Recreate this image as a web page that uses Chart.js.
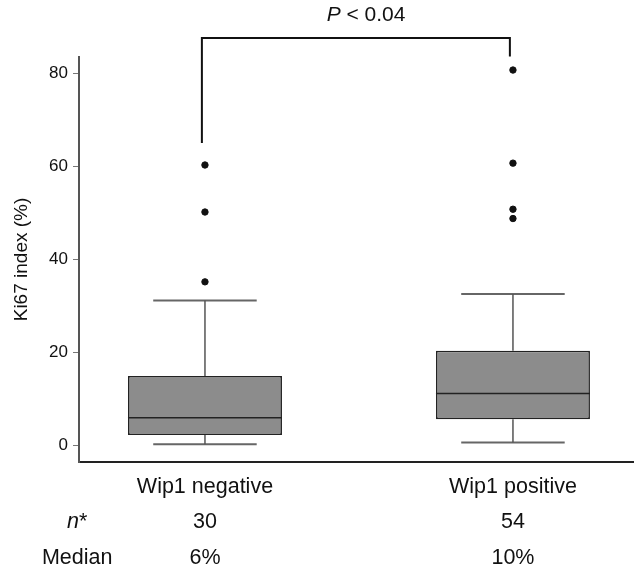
<!DOCTYPE html>
<html>
<head>
<meta charset="utf-8">
<script src="https://cdn.jsdelivr.net/npm/chart.js@4/dist/chart.umd.min.js"></script>
<style>
  html, body { margin: 0; padding: 0; background: #fff; }
  #wrap { width: 634px; height: 566px; position: relative; }
</style>
</head>
<body>
<div id="wrap"><canvas id="c"></canvas></div>
<script>
// ---- data ----
const categories   = ['Wip1 negative', 'Wip1 positive'];
const nCounts      = ['30', '54'];
const medianLabels = ['6%', '10%'];
const q1Values     = [2.3, 5.7];
const medianValues = [6.0, 11.2];
const q3Values     = [15.0, 20.4];
const whiskerLow   = [0.3, 0.7];
const whiskerHigh  = [31.2, 32.6];
const outliersNeg  = [35.2, 50.2, 60.3];
const outliersPos  = [48.8, 50.8, 60.7, 80.7];
const yTickValues  = [0, 20, 40, 60, 80];
const bracketX     = [0.99, 0.99, 1.99, 1.99];
const bracketY     = [65.0, 87.6, 87.6, 83.6];
const pLabel       = { x: 1.523, y: 92.4 };

// ---- geometry constants (style, not data) ----
const BOX_HALF = 0.25;   // half box width in category units
const CAP_HALF = 0.168;  // half whisker cap width
const FONT = '"Liberation Sans", Arial, Helvetica, sans-serif';
const XFONT = 21.5, XLH = 1.656, XPAD = 7;
const PFONT = 21;
const positions = categories.map((_, i) => i + 1);

const gap = (x) => ({ x, y: null });

const medianData = [], whiskerData = [], capData = [];
positions.forEach((p, i) => {
  medianData.push({ x: p - BOX_HALF, y: medianValues[i] }, { x: p + BOX_HALF, y: medianValues[i] }, gap(p));
  whiskerData.push({ x: p, y: q3Values[i] }, { x: p, y: whiskerHigh[i] }, gap(p));
  whiskerData.push({ x: p, y: q1Values[i] }, { x: p, y: whiskerLow[i] }, gap(p));
  capData.push({ x: p - CAP_HALF, y: whiskerHigh[i] }, { x: p + CAP_HALF, y: whiskerHigh[i] }, gap(p));
  capData.push({ x: p - CAP_HALF, y: whiskerLow[i] }, { x: p + CAP_HALF, y: whiskerLow[i] }, gap(p));
});
const outlierData = [
  ...outliersNeg.map(v => ({ x: positions[0], y: v })),
  ...outliersPos.map(v => ({ x: positions[1], y: v }))
];
const bracketData = bracketX.map((x, i) => ({ x, y: bracketY[i] }));
const boxData = positions.map((p, i) => ({ x: p, y: [q1Values[i], q3Values[i]] }));

const annotations = {
  id: 'annotations',
  afterDraw(chart) {
    const { ctx, scales: { x, y } } = chart;
    ctx.save();
    ctx.fillStyle = '#111';
    ctx.textBaseline = 'middle';
    ctx.textAlign = 'left';
    // P < 0.04
    const italic = 'italic ' + PFONT + 'px ' + FONT, normal = PFONT + 'px ' + FONT;
    ctx.font = italic; const w1 = ctx.measureText('P').width;
    ctx.font = normal; const w2 = ctx.measureText(' < 0.04').width;
    const px = x.getPixelForValue(pLabel.x) - (w1 + w2) / 2;
    const py = y.getPixelForValue(pLabel.y);
    ctx.font = italic; ctx.fillText('P', px, py);
    ctx.font = normal; ctx.fillText(' < 0.04', px + w1, py);
    // row headers
    const lh = XFONT * XLH;
    const cx = x.getPixelForValue(0.585);
    const row1 = x.top + XPAD + lh / 2 + lh;
    const row2 = row1 + lh;
    const fI = 'italic ' + XFONT + 'px ' + FONT, fN = XFONT + 'px ' + FONT;
    ctx.font = fI; const a = ctx.measureText('n').width;
    ctx.font = fN; const b = ctx.measureText('*').width;
    ctx.font = fI; ctx.fillText('n', cx - (a + b) / 2, row1);
    ctx.font = fN; ctx.fillText('*', cx - (a + b) / 2 + a, row1);
    ctx.textAlign = 'center';
    ctx.fillText('Median', cx, row2);
    ctx.restore();
  }
};

new Chart(document.getElementById('c'), {
  data: {
    datasets: [
      { type: 'line', data: medianData, borderColor: '#222', borderWidth: 1.6, pointRadius: 0, spanGaps: false, order: 1 },
      { type: 'scatter', data: outlierData, backgroundColor: '#111', borderColor: '#111', pointRadius: 3.2, pointStyle: 'circle', order: 1 },
      { type: 'line', data: bracketData, borderColor: '#111', borderWidth: 2, pointRadius: 0, clip: false, order: 1 },
      { type: 'line', data: whiskerData, borderColor: '#555', borderWidth: 1.5, pointRadius: 0, spanGaps: false, order: 2 },
      { type: 'line', data: capData, borderColor: '#666', borderWidth: 2, pointRadius: 0, spanGaps: false, order: 2 },
      { type: 'bar', data: boxData, backgroundColor: '#8c8c8c', borderColor: '#222', borderWidth: 1.6,
        borderSkipped: false, categoryPercentage: 1, barPercentage: 2 * BOX_HALF, order: 10 }
    ]
  },
  options: {
    responsive: true,
    maintainAspectRatio: false,
    animation: false,
    events: [],
    layout: { autoPadding: false, padding: { top: 57, left: 0, right: 0, bottom: 0 } },
    plugins: { legend: { display: false }, tooltip: { enabled: false }, title: { display: false } },
    scales: {
      x: {
        type: 'linear',
        offset: false,
        min: 0.591,
        max: 2.393,
        grid: { display: false, drawTicks: false, offset: false },
        border: { display: true, color: '#222', width: 2 },
        afterBuildTicks: (s) => { s.ticks = positions.map(v => ({ value: v })); },
        afterFit: (s) => { s.height = 104; s.paddingLeft = 0; s.paddingRight = 0; },
        ticks: {
          autoSkip: false, maxRotation: 0, minRotation: 0,
          padding: XPAD, color: '#111',
          font: { family: FONT, size: XFONT, lineHeight: XLH },
          callback: (v, i) => [categories[i], nCounts[i], medianLabels[i]]
        }
      },
      y: {
        type: 'linear',
        min: -3.5,
        max: 83.5,
        grid: { drawOnChartArea: false, drawTicks: true, tickLength: 6, color: '#777', lineWidth: 1 },
        border: { display: true, color: '#555', width: 2 },
        afterBuildTicks: (s) => { s.ticks = yTickValues.map(v => ({ value: v })); },
        afterFit: (s) => { s.width = 79; s.paddingTop = 0; s.paddingBottom = 0; },
        ticks: { padding: 5, color: '#111', font: { family: FONT, size: 17 } },
        title: { display: true, text: 'Ki67 index (%)', color: '#111', padding: { top: 10, bottom: 0 },
                 font: { family: FONT, size: 19 } }
      }
    }
  },
  plugins: [annotations]
});
</script>
</body>
</html>
